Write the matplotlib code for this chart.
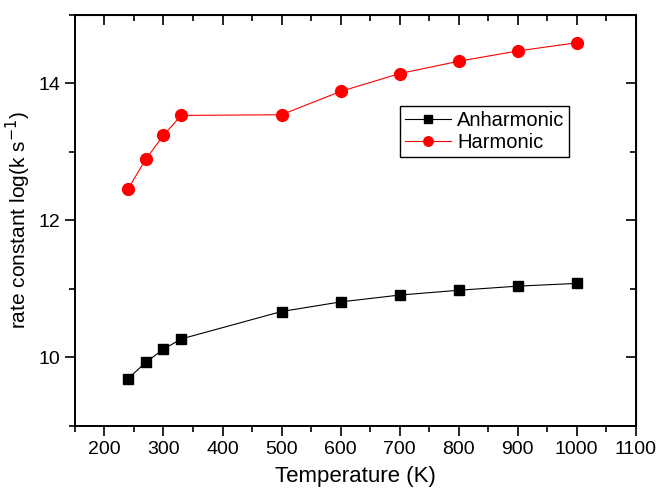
import matplotlib
matplotlib.use("Agg")
from matplotlib import pyplot as plt
from matplotlib.ticker import MultipleLocator

plt.rcParams['font.family'] = ['Liberation Sans', 'DejaVu Sans']

# data
temperature = [240, 270, 300, 330, 500, 600, 700, 800, 900, 1000]
anharmonic = [9.69, 9.93, 10.12, 10.27, 10.67, 10.81, 10.91, 10.98, 11.04, 11.08]
harmonic = [12.46, 12.89, 13.24, 13.53, 13.54, 13.88, 14.14, 14.32, 14.47, 14.59]

fig = plt.figure(figsize=(6.6, 4.88), dpi=100)
ax = fig.add_axes([0.1136, 0.127, 0.8494, 0.843])

ax.plot(temperature, anharmonic, color="black", lw=0.8, marker="s", ms=7.5,
        label="Anharmonic")
ax.plot(temperature, harmonic, color="red", lw=0.8, marker="o", ms=8.5,
        label="Harmonic")

ax.set_xlim(150, 1100)
ax.set_ylim(9, 15)
ax.xaxis.set_major_locator(MultipleLocator(100))
ax.xaxis.set_minor_locator(MultipleLocator(50))
ax.yaxis.set_major_locator(MultipleLocator(2))
ax.yaxis.set_minor_locator(MultipleLocator(1))
ax.set_xticks(range(200, 1101, 100))

ax.tick_params(which="major", direction="out", length=7, width=1.2, labelsize=14)
ax.tick_params(which="minor", direction="out", length=4, width=1.2)
for s in ax.spines.values():
    s.set_linewidth(1.4)

# mirrored ticks on top/right pointing inward
top = ax.secondary_xaxis("top")
top.xaxis.set_major_locator(MultipleLocator(100))
top.xaxis.set_minor_locator(MultipleLocator(50))
top.tick_params(which="major", direction="in", length=7, width=1.2, labeltop=False)
top.tick_params(which="minor", direction="in", length=4, width=1.2)
right = ax.secondary_yaxis("right")
right.yaxis.set_major_locator(MultipleLocator(2))
right.yaxis.set_minor_locator(MultipleLocator(1))
right.tick_params(which="major", direction="in", length=7, width=1.2, labelright=False)
right.tick_params(which="minor", direction="in", length=4, width=1.2)

ax.set_xlabel("Temperature (K)", fontsize=16, labelpad=6)
ax.set_ylabel("rate constant log(k s$^{-1}$)", fontsize=15, labelpad=4)

ax.legend(loc="upper left", bbox_to_anchor=(0.579, 0.778), fontsize=14.5,
          frameon=True, fancybox=False, edgecolor="black", framealpha=1,
          handlelength=2.3, handletextpad=0.3, borderpad=0.25, labelspacing=0.15,
          markerscale=0.8, borderaxespad=0)

fig.savefig("out.png", dpi=100)
